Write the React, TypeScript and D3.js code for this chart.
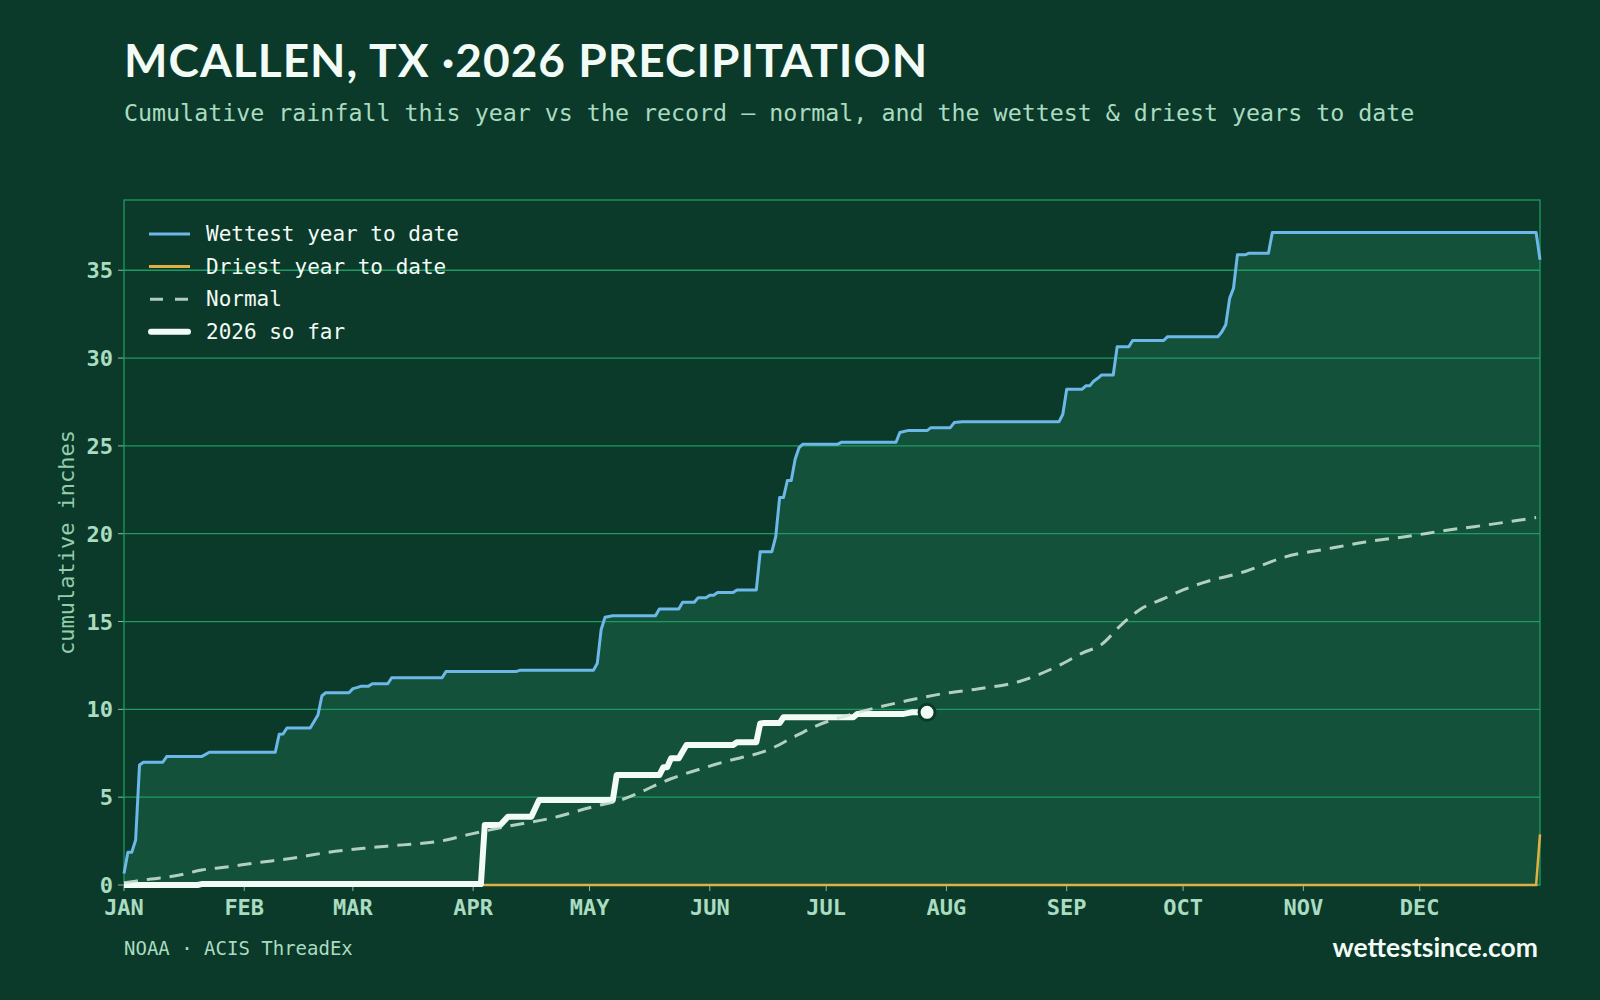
import React from "react";
import * as d3 from "d3";

// day-of-year (0 = Jan 1), cumulative inches
const wettest: [number, number][] = [
  [0, 0.66], [1, 1.86], [2, 1.86], [3, 2.56], [4, 6.83], [5, 6.99], [10, 6.99], [11, 7.31],
  [20, 7.31], [22, 7.56], [39, 7.56], [40, 8.58], [41, 8.6], [42, 8.94], [48, 8.94], [50, 9.68],
  [51, 10.76], [52, 10.95], [58, 10.95], [59, 11.18], [60, 11.24], [61, 11.31], [63, 11.31],
  [64, 11.46], [68, 11.46], [69, 11.8], [82, 11.8], [83, 12.15], [101, 12.15], [102, 12.22],
  [121, 12.22], [122, 12.62], [123, 14.55], [124, 15.24], [126, 15.33], [137, 15.33], [138, 15.72],
  [143, 15.72], [144, 16.1], [147, 16.1], [148, 16.36], [150, 16.36], [151, 16.5], [152, 16.5],
  [153, 16.65], [157, 16.65], [158, 16.8], [163, 16.8], [164, 18.98], [167, 18.98], [168, 19.84],
  [169, 22.06], [170, 22.06], [171, 23.03], [172, 23.03], [173, 24.24], [174, 24.9], [175, 25.1],
  [184, 25.1], [185, 25.21], [199, 25.21], [200, 25.76], [202, 25.87], [207, 25.87], [208, 26.04],
  [213, 26.04], [214, 26.33], [216, 26.37], [241, 26.37], [242, 26.8], [243, 28.23], [247, 28.23],
  [248, 28.43], [249, 28.43], [250, 28.7], [251, 28.85], [252, 29.04], [255, 29.04], [256, 30.64],
  [259, 30.64], [260, 31.0], [268, 31.0], [269, 31.22], [282, 31.22], [283, 31.5], [284, 31.9],
  [285, 33.4], [286, 33.98], [287, 35.88], [289, 35.88], [290, 35.97], [295, 35.97], [296, 37.15],
  [364, 37.15], [365, 35.6],
];

const driest: [number, number][] = [[0, 0], [364, 0], [365, 2.88]];

const normal: [number, number][] = [
  [0, 0.13], [7, 0.34], [14, 0.55], [20, 0.85], [27, 1.04], [33, 1.23], [45, 1.58], [52, 1.84],
  [66, 2.18], [83, 2.56], [89, 2.88], [98, 3.3], [110, 3.8], [121, 4.46], [128, 4.84], [141, 6.05],
  [154, 6.97], [167, 7.78], [172, 8.35], [178, 9.02], [189, 9.81], [202, 10.5], [212, 10.93],
  [220, 11.16], [231, 11.6], [241, 12.5], [247, 13.2], [252, 13.7], [257, 14.8], [262, 15.7],
  [268, 16.3], [273, 16.8], [278, 17.2], [289, 17.85], [299, 18.66], [311, 19.17], [320, 19.53],
  [331, 19.85], [341, 20.2], [348, 20.4], [356, 20.65], [364, 20.92],
];

const thisYear: [number, number][] = [
  [0, 0], [19, 0], [20, 0.05], [92, 0.05], [93, 3.42], [97, 3.42], [99, 3.89], [105, 3.89],
  [107, 4.84], [126, 4.84], [127, 6.26], [138, 6.26], [139, 6.7], [140, 6.7], [141, 7.21],
  [143, 7.21], [144, 7.6], [145, 7.97], [157, 7.97], [158, 8.13], [163, 8.13], [164, 9.2],
  [165, 9.22], [169, 9.22], [170, 9.55], [188, 9.55], [189, 9.74], [201, 9.74], [203, 9.83],
  [207, 9.83],
];

const monthStarts = [0, 31, 59, 90, 120, 151, 181, 212, 243, 273, 304, 334];
const monthLabels = ["JAN", "FEB", "MAR", "APR", "MAY", "JUN", "JUL", "AUG", "SEP", "OCT", "NOV", "DEC"];
const yTicks = [0, 5, 10, 15, 20, 25, 30, 35];

const legendItems = [
  { label: "Wettest year to date", key: "wet" },
  { label: "Driest year to date", key: "dry" },
  { label: "Normal", key: "norm" },
  { label: "2026 so far", key: "now" },
];

const BG = "#0b3a2a";
const FILL = "#13513a";
const GRID = "#1e9a63";
const WET = "#6db8e9";
const DRY = "#e2b041";
const NORM = "#cfe6d8";
const NOW = "#f2fbf5";
const SOFT = "#a9dcc0";
const MONO = "'DejaVu Sans Mono', monospace";
const SANS = "Lato, 'Open Sans', sans-serif";

export default function App() {
  const W = 1600, H = 1000;
  const left = 124, right = 1540, top = 200, bottom = 885;

  const x = d3.scaleLinear().domain([0, 365]).range([left, right]);
  const y = d3.scaleLinear().domain([0, 39]).range([bottom, top]);

  const line = d3.line<[number, number]>().x(d => x(d[0])).y(d => y(d[1]));
  const smooth = d3.line<[number, number]>().x(d => x(d[0])).y(d => y(d[1])).curve(d3.curveMonotoneX);
  const area = d3.area<[number, number]>().x(d => x(d[0])).y0(y(0)).y1(d => y(d[1]));

  const last = thisYear[thisYear.length - 1];

  return (
    <svg width={W} height={H} style={{ position: "absolute", left: 0, top: 0, background: BG }}>
      <rect width={W} height={H} fill={BG} />

      <text x={124} y={77} fill={NOW} fontFamily={SANS} fontWeight={700} fontSize={46} letterSpacing={1}>
        MCALLEN, TX ·2026 PRECIPITATION
      </text>
      <text x={124} y={121} fill={SOFT} fontFamily={MONO} fontSize={23.3}>
        Cumulative rainfall this year vs the record — normal, and the wettest &amp; driest years to date
      </text>

      <path d={area(wettest) ?? ""} fill={FILL} />

      {yTicks.map(t => (
        <g key={t}>
          <line x1={left} x2={right} y1={y(t)} y2={y(t)} stroke={GRID} strokeWidth={1.3} />
          <line x1={left - 6} x2={left} y1={y(t)} y2={y(t)} stroke="#8fb8a2" strokeWidth={1} />
          <text x={113} y={y(t) + 8} textAnchor="end" fill={SOFT} fontFamily={MONO} fontWeight="bold" fontSize={22}>
            {t}
          </text>
        </g>
      ))}
      <rect x={left} y={top} width={right - left} height={bottom - top} fill="none" stroke={GRID} strokeWidth={1.3} />

      {monthStarts.map((d, i) => (
        <g key={d}>
          <line x1={x(d)} x2={x(d)} y1={bottom} y2={bottom + 6} stroke="#8fb8a2" strokeWidth={1} />
          <text x={x(d)} y={915} textAnchor="middle" fill={SOFT} fontFamily={MONO} fontWeight="bold" fontSize={22}>
            {monthLabels[i]}
          </text>
        </g>
      ))}

      <text transform={`translate(74,${(top + bottom) / 2}) rotate(-90)`} textAnchor="middle" fill="#92cdac"
        fontFamily={MONO} fontSize={22}>
        cumulative inches
      </text>

      <path d={line(driest) ?? ""} fill="none" stroke={DRY} strokeWidth={2.5} />
      <path d={line(wettest) ?? ""} fill="none" stroke={WET} strokeWidth={3} strokeLinejoin="round" />
      <path d={line(thisYear) ?? ""} fill="none" stroke={NOW} strokeWidth={6} strokeLinejoin="round" />
      <path d={smooth(normal) ?? ""} fill="none" stroke={NORM} strokeOpacity={0.85} strokeWidth={3}
        strokeDasharray="14 9" />
      <circle cx={x(last[0])} cy={y(last[1])} r={8} fill={NOW} stroke={BG} strokeWidth={3} />

      {legendItems.map((it, i) => {
        const ly = 234 + i * 32.6;
        return (
          <g key={it.key}>
            {it.key === "wet" && <line x1={149} x2={190} y1={ly} y2={ly} stroke={WET} strokeWidth={3} />}
            {it.key === "dry" && <line x1={149} x2={190} y1={ly} y2={ly} stroke={DRY} strokeWidth={3} />}
            {it.key === "norm" && <line x1={150} x2={190} y1={ly} y2={ly} stroke={NORM} strokeOpacity={0.85} strokeWidth={3} strokeDasharray="13 12" />}
            {it.key === "now" && <line x1={151} x2={188} y1={ly} y2={ly} stroke={NOW} strokeWidth={6} strokeLinecap="round" />}
            <text x={206} y={ly + 7} fill={NOW} fontFamily={MONO} fontSize={21}>{it.label}</text>
          </g>
        );
      })}

      <text x={124} y={955} fill={SOFT} fontFamily={MONO} fontSize={19}>NOAA · ACIS ThreadEx</text>
      <text x={1538} y={957} textAnchor="end" fill={NOW} fontFamily={SANS} fontWeight={700} fontSize={26.5}>
        wettestsince.com
      </text>
    </svg>
  );
}
